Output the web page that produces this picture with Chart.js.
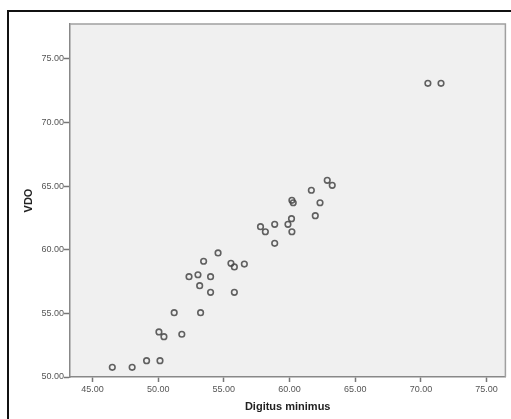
<!DOCTYPE html>
<html>
<head>
<meta charset="utf-8">
<script src="https://cdn.jsdelivr.net/npm/chart.js@4/dist/chart.umd.min.js"></script>
<style>
  html, body { margin: 0; padding: 0; background: #fff; }
  #wrap { width: 511px; height: 419px; }
</style>
</head>
<body>
<div id="wrap"><canvas id="scatterChart" width="511" height="419"></canvas></div>
<script>
// Digitus minimus (x) vs VDO (y)
const digitusMinimus = [
  70.53, 71.53, 62.87, 63.25, 61.66, 60.18, 60.28, 62.32, 61.96, 60.15,
  57.79, 58.16, 58.87, 59.88, 60.18, 58.87, 54.56, 53.46, 55.54, 55.80,
  56.56, 52.35, 53.03, 53.99, 53.16, 53.99, 55.80, 51.22, 53.23, 50.06,
  50.44, 51.80, 49.12, 50.14, 46.51, 48.02
];
const vdo = [
  73.09, 73.09, 65.46, 65.07, 64.68, 63.89, 63.70, 63.70, 62.68, 62.45,
  61.82, 61.42, 62.00, 62.00, 61.42, 60.51, 59.75, 59.10, 58.94, 58.65,
  58.88, 57.89, 58.04, 57.89, 57.18, 56.66, 56.66, 55.06, 55.06, 53.54,
  53.17, 53.36, 51.28, 51.28, 50.76, 50.76
];
const xTicks = [45, 50, 55, 60, 65, 70, 75];
const yTicks = [50, 55, 60, 65, 70, 75];

document.addEventListener("DOMContentLoaded", function () {
  const ctx = document.getElementById("scatterChart").getContext("2d");

  const points = digitusMinimus.map((x, i) => ({ x: x, y: vdo[i] }));

  // grey plot background, top/right frame and the outer black box
  const frame = {
    id: "frame",
    beforeDraw(chart) {
      const c = chart.ctx;
      const a = chart.chartArea;
      c.save();
      c.fillStyle = "#ffffff";
      c.fillRect(0, 0, chart.width, chart.height);
      c.strokeStyle = "#111111";
      c.lineWidth = 2;
      c.strokeRect(8, 11, 700, 700);
      c.fillStyle = "#f0f0f0";
      c.fillRect(a.left, a.top, a.right - a.left, a.bottom - a.top);
      c.restore();
    },
    afterDatasetsDraw(chart) {
      const c = chart.ctx;
      const a = chart.chartArea;
      c.save();
      c.strokeStyle = "#a0a0a0";
      c.lineWidth = 1.5;
      c.beginPath();
      c.moveTo(a.left, a.top);
      c.lineTo(a.right, a.top);
      c.lineTo(a.right, a.bottom);
      c.stroke();
      c.restore();
    },
  };

  new Chart(ctx, {
    type: "scatter",
    data: {
      datasets: [
        {
          label: "VDO",
          data: points,
          pointStyle: "circle",
          pointRadius: 2.8,
          pointBorderWidth: 1.6,
          pointBackgroundColor: "rgba(0,0,0,0)",
          pointBorderColor: "rgba(70,70,70,0.85)",
        },
      ],
    },
    options: {
      responsive: false,
      animation: false,
      layout: { padding: { left: 0, top: 24, right: 2, bottom: 0 } },
      scales: {
        x: {
          type: "linear",
          min: 43.29,
          max: 76.43,
          afterBuildTicks: (scale) => {
            scale.ticks = xTicks.map((v) => ({ value: v }));
          },
          afterFit: (scale) => {
            scale.height = 42;
          },
          ticks: {
            color: "#555555",
            font: { family: "Liberation Sans", size: 9 },
            padding: 2,
            maxRotation: 0,
            callback: (v) => Number(v).toFixed(2),
          },
          grid: {
            drawOnChartArea: false,
            drawTicks: true,
            tickLength: 5,
            tickWidth: 1.5,
            tickColor: "#777777",
          },
          border: { display: true, color: "#888888", width: 1.5 },
          title: {
            display: true,
            text: "Digitus minimus",
            color: "#222222",
            font: { family: "Liberation Sans", size: 11, weight: "bold" },
            padding: { top: 0, bottom: 5 },
          },
        },
        y: {
          type: "linear",
          min: 50,
          max: 77.75,
          afterBuildTicks: (scale) => {
            scale.ticks = yTicks.map((v) => ({ value: v }));
          },
          afterFit: (scale) => {
            scale.width = 70;
          },
          ticks: {
            color: "#555555",
            font: { family: "Liberation Sans", size: 9 },
            padding: 0,
            callback: (v) => Number(v).toFixed(2),
          },
          grid: {
            drawOnChartArea: false,
            drawTicks: true,
            tickLength: 6,
            tickWidth: 1.5,
            tickColor: "#777777",
          },
          border: { display: true, color: "#888888", width: 1.5 },
          title: {
            display: true,
            text: "VDO",
            color: "#222222",
            font: { family: "Liberation Sans", size: 11, weight: "bold" },
            padding: { top: 22, bottom: 0 },
          },
        },
      },
      plugins: {
        legend: { display: false },
        tooltip: { enabled: false },
      },
    },
    plugins: [frame],
  });
});
</script>
</body>
</html>
